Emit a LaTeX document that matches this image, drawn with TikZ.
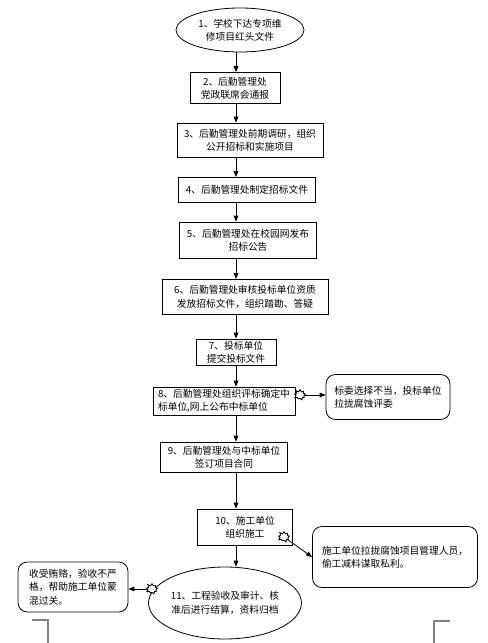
\documentclass[tikz,border=0pt]{standalone}
\usepackage{fontspec}
\setmainfont{Noto Sans CJK SC}
\usetikzlibrary{arrows.meta,shapes.geometric,shapes.symbols}

\begin{document}
\begin{tikzpicture}[x=0.75pt,y=-0.75pt,
    every node/.style={font=\fontsize{7.3pt}{10pt}\selectfont, line width=0.6pt, inner sep=0pt},
    stepbox/.style={draw, align=center},
    oval/.style={draw, ellipse, align=center},
    note/.style={draw, rounded corners=7pt, align=left},
    burst/.style={draw, fill=white, starburst, starburst points=9, starburst point height=2pt,
      random starburst=11, minimum width=10pt, minimum height=9pt},
    flow/.style={line width=0.6pt, -{Triangle[length=4.5pt,width=3.5pt]}}]
  \useasboundingbox (0,0) rectangle (488,643);
  \coordinate (spine) at (236,0);
  \node [oval, minimum width=96pt, minimum height=33pt] (s1) at (240,30) {1、学校下达专项维\\修项目红头文件};
  \node [stepbox, minimum width=67.5pt, minimum height=23.25pt] (s2) at (235,88) {2、后勤管理处\\党政联席会通报};
  \node [stepbox, minimum width=109.5pt, minimum height=25.5pt] (s3) at (250,140) {3、后勤管理处前期调研，组织\\公开招标和实施项目};
  \node [stepbox, minimum width=102.75pt, minimum height=18.75pt] (s4) at (247,190) {4、后勤管理处制定招标文件};
  \node [stepbox, minimum width=102.75pt, minimum height=27pt] (s5) at (248,240) {5、后勤管理处在校园网发布\\招标公告};
  \node [stepbox, minimum width=124.5pt, minimum height=26.25pt] (s6) at (245,297) {6、后勤管理处审核投标单位资质\\发放招标文件，组织踏勘、答疑};
  \node [stepbox, minimum width=60pt, minimum height=19.5pt] (s7) at (236,352) {7、投标单位\\提交投标文件};
  \node [stepbox, align=left, minimum width=106.5pt, minimum height=21pt] (s8) at (224,401) {8、后勤管理处组织评标确定中\\标单位,网上公布中标单位};
  \node [stepbox, minimum width=95.25pt, minimum height=22.5pt] (s9) at (224,457) {9、后勤管理处与中标单位\\签订项目合同};
  \node [stepbox, minimum width=71.25pt, minimum height=27pt] (s10) at (245,527) {10、施工单位\\组织施工};
  \node [oval, minimum width=108pt, minimum height=54pt] (s11) at (225,603) {11、工程验收及审计、核\\准后进行结算，资料归档};
  \node [note, minimum width=93pt, minimum height=33.75pt] (n8) at (388,397) {标委选择不当，投标单位\\拉拢腐蚀评委};
  \node [note, minimum width=123.75pt, minimum height=45.75pt] (n10) at (395,557) {施工单位拉拢腐蚀项目管理人员，\\偷工减料谋取私利。};
  \node [note, minimum width=82.5pt, minimum height=37.5pt] (n11) at (73,587) {收受贿赂，验收不严\\格，帮助施工单位蒙\\混过关。};
  \foreach \a/\b in {s1/s2,s2/s3,s3/s4,s4/s5,s5/s6,s6/s7,s7/s8,s8/s9,s9/s10,s10/s11}
    \draw [flow] (\a.south -| spine) -- (\b.north -| spine);
  \node [burst] (x8) at (300,395) {};
  \node [burst] (x10) at (284,537) {};
  \node [burst] (x11) at (152,589) {};
  \draw [flow] (x8.east) -- (x8.east -| n8.west);
  \draw [flow] (x10) -- (n10.west);
  \draw [flow] (x11) -- (x11 -| n11.east);
  \draw [gray, line width=0.8pt] (32,620) -- (48,620) -- (48,643);
  \draw [gray, line width=0.8pt] (434,643) -- (434,621) -- (450,621);
\end{tikzpicture}
\end{document}
